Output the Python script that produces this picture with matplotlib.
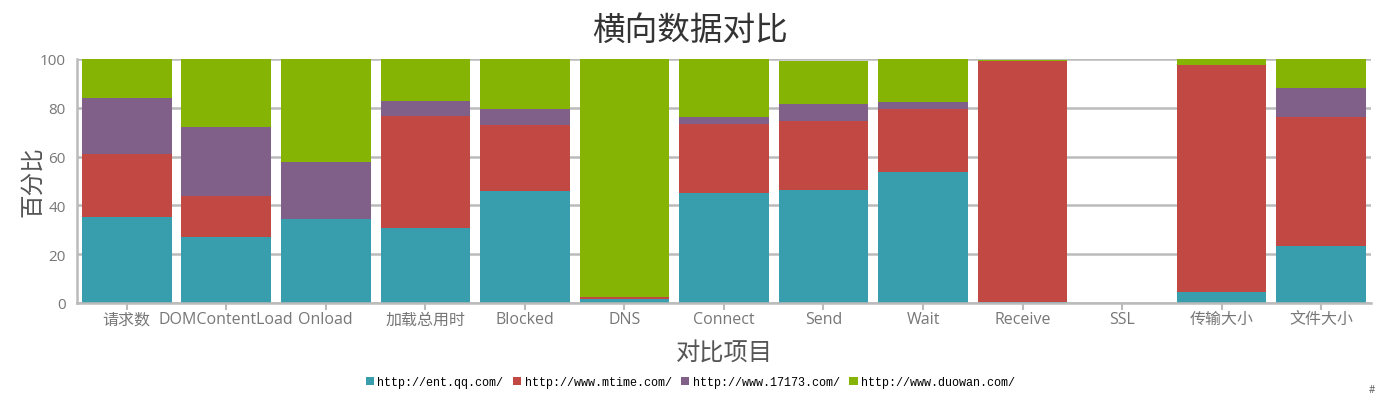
import numpy as np
import matplotlib.pyplot as plt

plt.rcParams['font.family'] = ['Open Sans', 'Noto Sans CJK SC', 'DejaVu Sans']

# === Daten ===
categories = ["请求数", "DOMContentLoad", "Onload", "加载总用时", "Blocked", "DNS",
              "Connect", "Send", "Wait", "Receive", "SSL", "传输大小", "文件大小"]
series_names = ["http://ent.qq.com/", "http://www.mtime.com/",
                "http://www.17173.com/", "http://www.duowan.com/"]
ent_qq = [35.4, 27.2, 34.4, 30.7, 45.9, 1.6, 45.1, 46.3, 53.7, 0.4, 0, 4.5, 23.4]
mtime = [25.7, 16.7, 0.0, 45.8, 27.1, 0.9, 28.3, 28.3, 25.9, 98.8, 0, 93.2, 53.0]
s17173 = [22.9, 28.2, 23.4, 6.3, 6.5, 0.0, 2.8, 7.0, 2.8, 0.0, 0, 0.0, 11.7]
duowan = [16.0, 27.9, 42.2, 17.2, 20.5, 97.5, 23.8, 17.6, 17.6, 0.4, 0, 2.3, 11.9]

colors = ["#389eae", "#c24844", "#805f88", "#86b404"]

# === Plot ===
fig = plt.figure(figsize=(13.89, 4.02), dpi=100)
ax = fig.add_axes([0.0554, 0.2438, 0.9316, 0.607])

x = np.arange(len(categories))
bottom = np.zeros(len(categories))
for vals, col, name in zip([ent_qq, mtime, s17173, duowan], colors, series_names):
    vals = np.array(vals)
    ax.bar(x, vals, 0.9, bottom=bottom, color=col, label=name, zorder=2)
    bottom += vals

ax.set_xlim(-0.5, len(categories) - 0.5)
ax.set_ylim(0, 100)
ax.set_yticks([0, 20, 40, 60, 80, 100])
ax.set_xticks(x)
ax.set_xticklabels(categories)
ax.grid(axis="y", color="#bbbbbb", linewidth=1.8, zorder=0)
ax.tick_params(axis="x", colors="#bbbbbb", labelcolor="#777777", labelsize=11.5, length=5, width=1.5, pad=1)
ax.tick_params(axis="y", length=0, labelcolor="#777777", labelsize=11, pad=8)
for s in ["top", "right"]:
    ax.spines[s].set_visible(False)
for s in ["left", "bottom"]:
    ax.spines[s].set_color("#bbbbbb")
    ax.spines[s].set_linewidth(1.8)

fig.text(0.497, 0.923, "横向数据对比", ha="center", va="center", fontsize=23.5, color="#333333")
ax.set_ylabel("百分比", fontsize=17, color="#555555", labelpad=-4)
ax.set_xlabel("对比项目", fontsize=17.5, color="#555555", labelpad=10)

leg = fig.legend(loc="center", bbox_to_anchor=(0.497, 0.047), ncol=4, frameon=False,
                 prop={"family": "Liberation Mono", "size": 8.5},
                 handlelength=0.7, handleheight=0.7, handletextpad=0.3, columnspacing=0.8)

fig.text(0.99, 0.015, "#", fontsize=7, color="#555555", ha="right", va="bottom")

fig.savefig("out.png", dpi=100)
